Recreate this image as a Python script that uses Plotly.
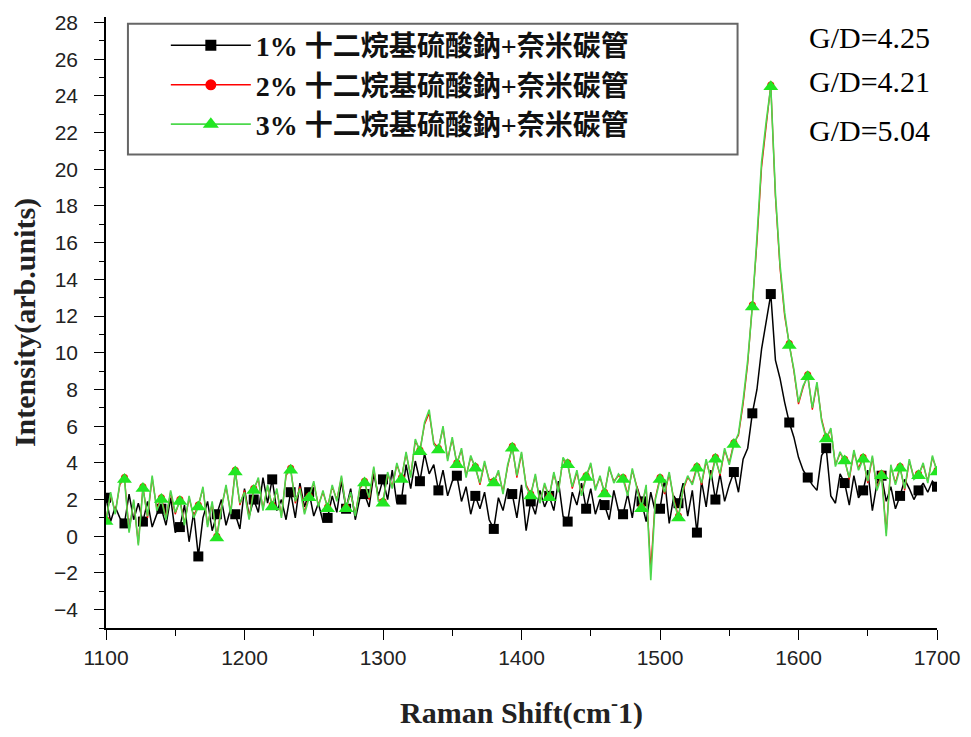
import plotly.graph_objects as go

# Raman shift axis sampling (cm-1): 181 points, 1100..1700
x_start = 1100.0
x_step = 10.0 / 3.0
n_points = 181
raman_shift = [x_start + x_step * i for i in range(n_points)]

series_names = [
    "1% 十二烷基硫酸鈉+奈米碳管",
    "2% 十二烷基硫酸鈉+奈米碳管",
    "3% 十二烷基硫酸鈉+奈米碳管",
]

intensity_1pct = [
    2.1, 0.8, 1.6, 1.0,   0.7, 2.3, 0.9, 1.8,   0.8, 1.9, 0.5, 1.2,   1.5, 0.6, 2.1, 0.2,
    0.5, 1.7, -0.3, 1.3,  -1.1, 1.0, 1.9, 0.3,  1.2, 2.0, 0.6, 1.5,   1.2, 0.4, 2.6, 1.1,
    2.0, 1.3, 3.2, 1.8,   3.1, 1.4, 2.0, 0.9,   2.4, 1.0, 2.9, 1.6,   2.4, 1.1, 1.8, 0.8,
    1.0, 2.2, 1.3, 3.0,   1.5, 2.6, 0.9, 2.1,   2.3, 1.6, 3.4, 2.2,   3.1, 2.0, 3.6, 1.8,
    2.0, 3.9, 2.6, 4.1,   3.0, 4.5, 3.4, 3.9,   2.5, 3.6, 2.2, 3.0,   3.3, 1.9, 2.7, 1.2,
    2.2, 1.5, 2.4, 0.9,   0.4, 2.1, 1.4, 2.6,   2.3, 1.0, 2.8, 0.3,   1.9, 1.2, 2.5, 1.6,
    2.2, 1.4, 3.0, 1.1,   0.8, 2.4, 1.7, 2.9,   1.5, 2.6, 1.2, 2.0,   1.7, 0.9, 2.5, 1.4,
    1.2, 2.3, 1.0, 2.7,   1.9, 0.8, 2.4, 1.3,   1.5, 3.1, 0.7, 2.2,   1.8, 2.9, 1.1, 2.5,
    0.2, 3.0, 1.6, 3.6,   2.0, 3.4, 1.9, 2.8,   3.5, 2.4, 4.2, 4.8,   6.7, 8.0, 10.2, 11.8,
    13.2, 9.6, 8.6, 7.3,  6.2, 5.4, 4.3, 3.6,   3.2, 2.8, 2.5, 4.4,   4.8, 2.2, 1.8, 3.4,
    2.9, 1.7, 3.3, 2.1,   2.5, 3.6, 1.4, 2.9,   3.3, 1.9, 2.7, 1.5,   2.2, 3.1, 2.6, 2.0,
    2.5, 2.9, 2.4, 3.0,   2.7,
]

intensity_2pct = [
    0.9, 2.3, 1.3, 2.8,   3.2, 0.3, 1.9, -0.4,  2.7, 1.0, 3.2, 1.5,   2.1, 1.0, 2.4, 1.2,
    2.0, 0.7, 2.1, 1.1,   1.7, 2.6, 0.6, 1.8,   0.0, 1.6, 2.7, 1.3,   3.6, 1.7, 2.5, 1.0,
    2.6, 3.1, 1.5, 2.7,   1.7, 2.5, 1.1, 3.3,   3.7, 1.8, 2.7, 1.3,   2.2, 2.9, 1.7, 2.4,
    1.6, 2.7, 2.0, 3.2,   1.6, 2.3, 1.2, 2.6,   3.0, 2.0, 3.7, 2.0,   1.9, 3.4, 2.7, 3.9,
    3.2, 4.5, 3.3, 5.2,   4.7, 6.1, 6.7, 5.1,   4.8, 5.9, 4.2, 5.3,   4.0, 4.7, 3.3, 4.3,
    3.8, 2.8, 4.0, 3.1,   3.0, 3.5, 2.4, 3.8,   4.9, 3.2, 4.5, 2.8,   2.3, 3.3, 1.9, 2.8,
    2.2, 3.4, 2.5, 4.2,   4.0, 2.6, 3.5, 2.3,   3.3, 3.9, 2.6, 3.2,   2.4, 3.7, 3.0, 3.3,
    3.2, 2.3, 3.6, 2.7,   1.6, 2.7, -1.8, 2.1,  3.2, 2.3, 3.4, 2.0,   1.1, 2.5, 3.2, 2.9,
    3.8, 2.8, 4.1, 3.2,   4.3, 3.3, 4.7, 4.0,   5.1, 5.5, 7.2, 9.4,   12.6, 16.0, 20.1, 22.3,
    24.6, 18.5, 14.6, 12.0, 10.5, 9.0, 7.2, 8.1, 8.8, 6.9, 8.3, 6.4,  5.4, 5.8, 3.9, 4.5,
    4.2, 3.1, 4.6, 3.7,   4.3, 2.9, 4.3, 2.6,   3.4, 0.2, 3.8, 2.9,   3.8, 2.5, 4.1, 3.2,
    3.4, 3.9, 3.0, 4.3,   3.6,
]

intensity_3pct = [
    0.8, 2.4, 1.2, 2.9,   3.1, 0.2, 2.0, -0.5,  2.6, 1.1, 3.3, 1.4,   2.0, 0.9, 2.5, 1.3,
    1.9, 0.6, 2.2, 1.0,   1.6, 2.7, 0.5, 1.9,   -0.1, 1.5, 2.8, 1.2,  3.5, 1.8, 2.4, 0.9,
    2.5, 3.2, 1.4, 2.8,   1.6, 2.6, 1.0, 3.4,   3.6, 1.9, 2.6, 1.2,   2.1, 3.0, 1.6, 2.5,
    1.5, 2.8, 1.9, 3.3,   1.5, 2.4, 1.1, 2.7,   2.9, 2.1, 3.8, 1.9,   1.8, 3.5, 2.6, 4.0,
    3.1, 4.6, 3.2, 5.3,   4.6, 6.2, 6.9, 5.0,   4.7, 6.0, 4.1, 5.4,   3.9, 4.8, 3.2, 4.4,
    3.7, 2.9, 4.1, 3.0,   2.9, 3.6, 2.3, 3.9,   4.8, 3.3, 4.6, 2.7,   2.2, 3.4, 1.8, 2.9,
    2.1, 3.5, 2.4, 4.3,   3.9, 2.7, 3.6, 2.2,   3.2, 4.0, 2.5, 3.3,   2.3, 3.8, 2.9, 3.4,
    3.1, 2.2, 3.7, 2.6,   1.5, 2.8, -2.4, 2.0,  3.1, 2.4, 3.5, 1.9,   1.0, 2.6, 3.3, 2.8,
    3.7, 2.9, 4.2, 3.1,   4.2, 3.4, 4.8, 3.9,   5.0, 5.6, 7.4, 9.6,   12.5, 16.3, 20.4, 22.6,
    24.5, 18.7, 14.8, 12.2, 10.4, 9.1, 7.3, 8.2, 8.7, 7.0, 8.4, 6.3,  5.3, 5.9, 3.8, 4.6,
    4.1, 3.2, 4.7, 3.6,   4.2, 3.0, 4.4, 2.5,   3.3, 0.0, 3.9, 2.8,   3.7, 2.6, 4.2, 3.1,
    3.3, 4.0, 2.9, 4.4,   3.5,
]

marker_every = 4  # Origin-style marker skip
gd_labels = ["G/D=4.25", "G/D=4.21", "G/D=5.04"]

series = [
    (series_names[0], intensity_1pct, "#000000", "#000000", "square", 10, 1.5),
    (series_names[1], intensity_2pct, "#ff0000", "#ff0000", "circle", 7, 1.3),
    (series_names[2], intensity_3pct, "#4cd84c", "#22e622", "triangle-up", 13, 1.6),
]

fig = go.Figure()
for name, ys, lcolor, mcolor, symbol, msize, lw in series:
    fig.add_trace(go.Scatter(
        x=raman_shift, y=ys, mode="lines", name=name, legendgroup=name,
        showlegend=False, line=dict(color=lcolor, width=lw),
    ))
    fig.add_trace(go.Scatter(
        x=raman_shift[::marker_every], y=ys[::marker_every], mode="markers",
        legendgroup=name, showlegend=False,
        marker=dict(color=mcolor, symbol=symbol, size=msize, line=dict(width=0)),
    ))
legend_msize = [11, 11, 14]
for (name, ys, lcolor, mcolor, symbol, msize, lw), lms in zip(series, legend_msize):
    fig.add_trace(go.Scatter(
        x=[None], y=[None], mode="lines+markers", name=name, legendgroup=name,
        line=dict(color=lcolor, width=lw),
        marker=dict(color=mcolor, symbol=symbol, size=lms, line=dict(width=0)),
    ))

serif = "Liberation Serif, Times New Roman, serif"
sans = "Liberation Sans, Arial, sans-serif"

fig.update_layout(
    width=971, height=737,
    margin=dict(l=106, r=31, t=11, b=109),
    paper_bgcolor="white", plot_bgcolor="white",
    showlegend=True,
    legend=dict(
        x=0.072, y=0.994, xanchor="left", yanchor="top",
        bgcolor="rgba(0,0,0,0)", borderwidth=0,
        itemwidth=80, tracegroupgap=0,
        font=dict(family="Liberation Serif, Noto Sans CJK TC", size=28, color="#111", weight="bold"),
    ),
    shapes=[dict(
        type="rect", xref="paper", yref="paper",
        x0=0.0264, x1=0.760, y0=0.775, y1=0.989,
        line=dict(color="#666666", width=2), fillcolor="rgba(0,0,0,0)", layer="above",
    )],
    xaxis=dict(
        range=[1100, 1700], dtick=100, tick0=1100,
        showline=True, linecolor="black", linewidth=1.5, mirror=False,
        ticks="outside", ticklen=10, tickwidth=1.2, tickcolor="black",
        minor=dict(dtick=50, ticks="outside", ticklen=6, tickcolor="black"),
        showgrid=False, zeroline=False,
        tickfont=dict(family=sans, size=21, color="#222"),
        title=dict(text="Raman Shift(cm<sup>-</sup>1)", standoff=34,
                   font=dict(family=serif, size=30, color="#222", weight="bold")),
    ),
    yaxis=dict(
        range=[-5, 28.3], dtick=2, tick0=0,
        showline=True, linecolor="black", linewidth=1.5, mirror=False,
        ticks="outside", ticklen=10, tickwidth=1.2, tickcolor="black",
        minor=dict(dtick=1, ticks="outside", ticklen=5, tickcolor="black"),
        showgrid=False, zeroline=False,
        tickfont=dict(family=sans, size=21, color="#222"),
        ticklabelstandoff=12,
        title=dict(text="Intensity(arb.units)", standoff=10,
                   font=dict(family=serif, size=30, color="#222", weight="bold")),
    ),
)

gd_y = [0.967, 0.895, 0.815]
for label, yy in zip(gd_labels, gd_y):
    fig.add_annotation(
        text=label, xref="paper", yref="paper", x=0.844, y=yy,
        xanchor="left", yanchor="middle", showarrow=False,
        font=dict(family=serif, size=30, color="black"),
    )

fig.write_html("out.html")
